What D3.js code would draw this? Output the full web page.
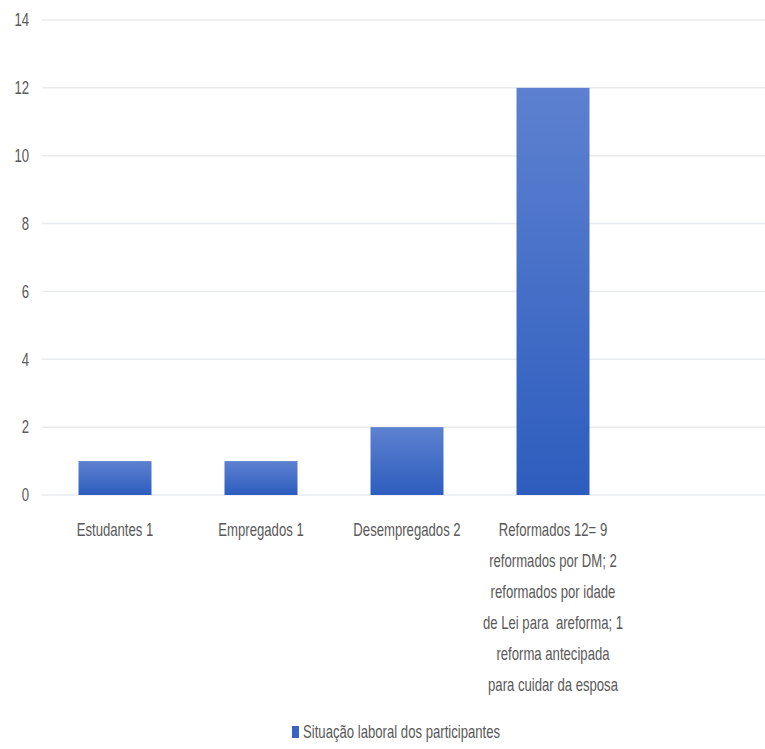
<!DOCTYPE html>
<html>
<head>
<meta charset="utf-8">
<script src="https://cdn.jsdelivr.net/npm/d3@7"></script>
<style>
  body { margin:0; background:#fff; }
  text { font-family: "Liberation Sans", sans-serif; fill:#595959; font-size:18px; }
</style>
</head>
<body>
<svg width="765" height="749"></svg>
<script>
const categories = [
  ["Estudantes 1"],
  ["Empregados 1"],
  ["Desempregados 2"],
  ["Reformados 12= 9", "reformados por DM; 2", "reformados por idade", "de Lei para  areforma; 1", "reforma antecipada", "para cuidar da esposa"]
];
const values = [1, 1, 2, 12];
const yTicks = [0, 2, 4, 6, 8, 10, 12, 14];
const seriesName = "Situação laboral dos participantes";

const svg = d3.select('svg');
const width = +svg.attr('width');
const margin = { top:20, left:42 };
const y0 = 495;
const squeeze = 0.73; // the reference text is horizontally condensed

const keys = categories.map(c => c.join(' '));

const xscale = d3.scaleBand()
  .domain(keys)
  .range([margin.left, margin.left + 146 * keys.length])
  .paddingInner(0.5)
  .paddingOuter(0.25);

const yscale = d3.scaleLinear()
  .domain([0, 14])
  .range([y0, margin.top]);

const defs = svg.append('defs');
const grad = defs.append('linearGradient')
  .attr('id', 'barGrad')
  .attr('x1', 0).attr('y1', 0).attr('x2', 0).attr('y2', 1);
grad.append('stop').attr('offset', '0%').attr('stop-color', '#5d81d0');
grad.append('stop').attr('offset', '100%').attr('stop-color', '#2d5dbe');

// gridlines
svg.append('g').selectAll('line').data(yTicks)
  .enter().append('line')
    .attr('x1', margin.left)
    .attr('x2', width)
    .attr('y1', d => yscale(d))
    .attr('y2', d => yscale(d))
    .attr('stroke', '#e8eaef')
    .attr('stroke-width', 1.5);

// y labels
svg.append('g').selectAll('g').data(yTicks)
  .enter().append('g')
    .attr('transform', d => `translate(29,${yscale(d)}) scale(${squeeze},1)`)
  .append('text')
    .attr('dy', '0.35em')
    .attr('text-anchor', 'end')
    .text(d => d);

// bars
svg.append('g').selectAll('rect').data(values)
  .enter().append('rect')
    .attr('x', (d, i) => xscale(keys[i]))
    .attr('y', d => yscale(d))
    .attr('width', xscale.bandwidth())
    .attr('height', d => y0 - yscale(d))
    .attr('fill', 'url(#barGrad)');

// x labels
const xl = svg.append('g').selectAll('g').data(categories)
  .enter().append('g')
    .attr('transform', (d, i) => `translate(${xscale(keys[i]) + xscale.bandwidth() / 2},536) scale(${squeeze},1)`)
  .append('text')
    .attr('text-anchor', 'middle')
    .style('white-space', 'pre');
xl.selectAll('tspan').data(d => d)
  .enter().append('tspan')
    .attr('x', 0)
    .attr('dy', (d, i) => i === 0 ? 0 : 31)
    .text(d => d);

// legend
const lg = svg.append('g').attr('transform', 'translate(292,732)');
lg.append('rect')
  .attr('x', 0).attr('y', -6).attr('width', 7).attr('height', 12)
  .attr('fill', '#3a63c4');
lg.append('g')
  .attr('transform', `translate(11,0) scale(${squeeze},1)`)
  .append('text')
    .attr('dy', '0.35em')
    .text(seriesName);
</script>
</body>
</html>
